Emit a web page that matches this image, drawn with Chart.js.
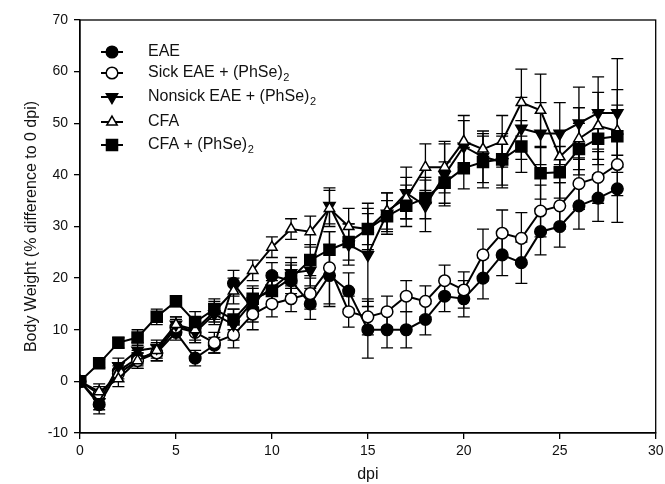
<!DOCTYPE html>
<html>
<head>
<meta charset="utf-8">
<script src="https://cdn.jsdelivr.net/npm/chart.js@4/dist/chart.umd.min.js"></script>
<style>
  html, body { margin: 0; padding: 0; background: #fff; }
  #wrap { width: 665px; height: 484px; }
</style>
</head>
<body>
<div id="wrap"><canvas id="chart" width="665" height="484"></canvas></div>
<script>
// body weight change, days post immunization
const days = [0, 1, 2, 3, 4, 5, 6, 7, 8, 9, 10, 11, 12, 13, 14, 15, 16, 17, 18, 19, 20, 21, 22, 23, 24, 25, 26, 27, 28];

const eae        = [0, -4.5, 2, 4.5, 5.5, 9.5, 4.5, 7, 19, 14, 20.5, 19.5, 15, 20.5, 17.5, 10, 10, 10, 12, 16.5, 16, 20, 24.5, 23, 29, 30, 34, 35.5, 37.3];
const eaeErr     = [0, 1.8, 1.5, 1.5, 1.5, 1.5, 1.5, 1.5, 2.5, 2.5, 2.5, 3, 3, 6, 3.5, 5.5, 3.5, 3.5, 3, 3, 3.5, 4, 4, 4, 4.5, 4, 4.5, 4.5, 6.5];
const sick       = [0, -2.5, 1.5, 4, 5.5, 10.5, 9.5, 7.5, 9, 13, 15, 16, 17, 22, 13.5, 12.5, 13.5, 16.5, 15.5, 19.5, 17.7, 24.5, 28.7, 27.7, 33, 34, 38.3, 39.5, 42];
const sickErr    = [0, 1.5, 1.5, 1.5, 1.5, 1.5, 2, 2, 2.5, 3, 2.5, 2.5, 3, 7, 3, 3.5, 3, 3, 3, 3, 3.5, 5, 4.5, 5, 5, 4.5, 5, 5, 6];
const nonsick    = [0, -4, 3, 6, 6.5, 11, 9.5, 13, 11, 15.5, 18, 21, 21.5, 34, 26.5, 24.5, 32.5, 36.5, 34, 40, 45.5, 43.5, 42.5, 49, 48, 48, 50, 52, 52];
const nonsickErr = [0, 1.5, 1.5, 1.5, 1.5, 1.5, 2, 2, 3, 3, 3, 3, 3, 3.5, 4, 10, 4, 5, 5, 6, 5, 5, 5, 6, 6, 6, 7, 7, 10.5];
const cfa        = [0, -2, 0.5, 4, 6, 11, 10, 13.5, 17.5, 21.5, 26, 29.5, 29, 33.5, 30, 29.5, 33, 35.5, 41.5, 41.5, 46.5, 45, 46.5, 54, 52.5, 43.5, 47, 49.5, 48.5];
const cfaErr     = [0, 1.5, 1.5, 1.5, 1.5, 1.5, 2, 2, 2.5, 2, 2, 2, 3, 3.5, 3.5, 4, 3.5, 4, 4.5, 5, 5, 3, 5, 6.5, 7, 5, 6, 6.5, 8];
const cfaPh      = [0, 3.5, 7.5, 8.5, 12.5, 15.5, 11.5, 14, 12, 16, 17.5, 20, 23.5, 25.5, 27, 29.5, 32, 34, 35.5, 38.5, 41.3, 42.5, 43, 45.5, 40.3, 40.5, 45, 47, 47.5];
const cfaPhErr   = [0, 0.8, 1, 1.5, 1.5, 1, 2, 2, 2, 2, 2, 3, 3, 3.5, 3.5, 3, 3, 4, 4, 4, 4, 5, 5, 5, 5, 5, 5, 5, 6];

const xTicks = [0, 5, 10, 15, 20, 25, 30];
const yTicks = [-10, 0, 10, 20, 30, 40, 50, 60, 70];

const FONT = 'Arial, "Liberation Sans", Helvetica, sans-serif';

function series(label, values, errs, style, opts) {
    return Object.assign({
        label: label,
        data: days.map(function (d, i) { return { x: d, y: values[i], err: errs[i] }; }),
        borderColor: '#000',
        backgroundColor: '#000',
        pointBorderColor: '#000',
        pointBackgroundColor: '#000',
        borderWidth: 2,
        pointBorderWidth: 1.5,
        pointStyle: style,
        pointRadius: 5.8,
        tension: 0
    }, opts || {});
}

const datasets = [
    series('CFA + (PhSe)_2', cfaPh, cfaPhErr, 'rect', { pointRadius: 7.8 }),
    series('CFA', cfa, cfaErr, 'triangle', { pointBackgroundColor: '#fff', pointRadius: 6 }),
    series('Nonsick EAE + (PhSe)_2', nonsick, nonsickErr, 'triangle', { pointRotation: 180, pointRadius: 6.5 }),
    series('Sick EAE + (PhSe)_2', sick, sickErr, 'circle', { pointBackgroundColor: '#fff' }),
    series('EAE', eae, eaeErr, 'circle')
];

// error bars, drawn under the lines and markers
const errorBars = {
    id: 'errorBars',
    beforeDatasetsDraw: function (chart) {
        const ctx = chart.ctx, xs = chart.scales.x, ys = chart.scales.y;
        ctx.save();
        ctx.strokeStyle = '#000';
        ctx.lineWidth = 1.3;
        chart.data.datasets.forEach(function (ds) {
            ds.data.forEach(function (p) {
                if (!p.err) return;
                const px = xs.getPixelForValue(p.x);
                const top = ys.getPixelForValue(p.y + p.err);
                const bot = ys.getPixelForValue(p.y - p.err);
                ctx.beginPath();
                ctx.moveTo(px, top); ctx.lineTo(px, bot);
                ctx.moveTo(px - 6, top); ctx.lineTo(px + 6, top);
                ctx.moveTo(px - 6, bot); ctx.lineTo(px + 6, bot);
                ctx.stroke();
            });
        });
        ctx.restore();
    }
};

// frame around the plot area
const frame = {
    id: 'frame',
    afterDraw: function (chart) {
        const a = chart.chartArea, ctx = chart.ctx;
        ctx.save();
        ctx.strokeStyle = '#000';
        ctx.lineWidth = 1.3;
        ctx.strokeRect(a.left, a.top, a.right - a.left, a.bottom - a.top);
        ctx.restore();
    }
};

// text with "_2" drawn as a subscript
function drawSubText(ctx, text, x, y, size) {
    const parts = text.split('_');
    ctx.font = size + 'px ' + FONT;
    ctx.fillText(parts[0], x, y);
    if (parts.length > 1) {
        const w = ctx.measureText(parts[0]).width;
        ctx.font = Math.round(size * 0.7) + 'px ' + FONT;
        ctx.fillText(parts[1], x + w + 0.5, y + size * 0.32);
    }
}

const legendOrder = [4, 3, 2, 1, 0];
const legendBox = {
    id: 'legendBox',
    afterDraw: function (chart) {
        const ctx = chart.ctx, a = chart.chartArea;
        const rows = [52, 73, 97, 122, 145];
        ctx.save();
        legendOrder.forEach(function (idx, k) {
            const ds = chart.data.datasets[idx];
            const y = rows[k];
            const cx = a.left + 32;
            ctx.strokeStyle = '#000';
            ctx.lineWidth = 2;
            ctx.beginPath();
            ctx.moveTo(cx - 11, y); ctx.lineTo(cx + 11, y);
            ctx.stroke();
            ctx.fillStyle = ds.pointBackgroundColor;
            ctx.lineWidth = ds.pointBorderWidth;
            Chart.helpers.drawPoint(ctx, {
                pointStyle: ds.pointStyle,
                rotation: ds.pointRotation || 0,
                radius: ds.pointRadius,
                borderWidth: ds.pointBorderWidth
            }, cx, y);
            ctx.fillStyle = '#111';
            ctx.textBaseline = 'middle';
            ctx.textAlign = 'left';
            drawSubText(ctx, ds.label, a.left + 68, y, 16);
        });
        ctx.restore();
    }
};

new Chart(document.getElementById('chart'), {
    type: 'line',
    data: { datasets: datasets },
    plugins: [errorBars, frame, legendBox],
    options: {
        responsive: false,
        animation: false,
        layout: { padding: { top: 20, right: 0, left: 0, bottom: 0 } },
        plugins: { legend: { display: false }, tooltip: { enabled: false } },
        scales: {
            x: {
                type: 'linear',
                min: 0, max: 30,
                afterBuildTicks: function (s) { s.ticks = xTicks.map(function (v) { return { value: v }; }); },
                afterFit: function (s) { s.height = 51; s.paddingRight = 8; },
                grid: { display: true, drawOnChartArea: false, drawTicks: true, tickLength: 6, color: '#000', lineWidth: 1.3 },
                border: { display: true, color: '#000', width: 1.3 },
                ticks: { color: '#111', font: { family: FONT, size: 14 }, padding: 4 },
                title: { display: true, text: 'dpi', color: '#111', font: { family: FONT, size: 16 }, padding: { top: 0, bottom: 0 } }
            },
            y: {
                type: 'linear',
                min: -10, max: 70,
                afterBuildTicks: function (s) { s.ticks = yTicks.map(function (v) { return { value: v }; }); },
                afterFit: function (s) { s.width = 80; },
                grid: { display: true, drawOnChartArea: false, drawTicks: true, tickLength: 6, color: '#000', lineWidth: 1.3 },
                border: { display: true, color: '#000', width: 1.3 },
                ticks: { color: '#111', font: { family: FONT, size: 14 }, padding: 6 },
                title: { display: true, text: 'Body Weight (% difference to 0 dpi)', color: '#111', font: { family: FONT, size: 16 }, padding: { top: 22, bottom: 0 } }
            }
        }
    }
});
</script>
</body>
</html>
